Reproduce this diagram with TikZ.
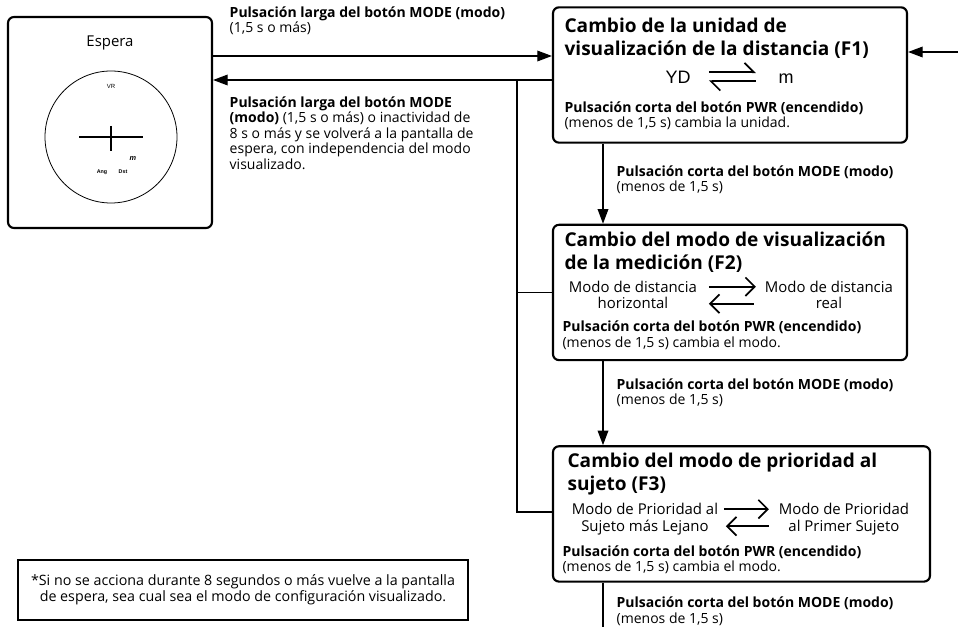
\documentclass[tikz,border=0pt]{standalone}
\usepackage{fontspec}
\setmainfont{Open Sans}
\newfontfamily\unitfont{Liberation Sans}
\usetikzlibrary{arrows.meta}
\usetikzlibrary{calc}
\usetikzlibrary{positioning}
\tikzstyle{panel} = [draw, line width=1.6pt, rounded corners=4.5pt, inner sep=0pt,
    minimum width=265.5pt, minimum height=101.5pt]
\tikzstyle{memobox} = [draw, line width=1.4pt, inner sep=0pt, align=center,
    font=\fontsize{10.7}{12}\selectfont]
\tikzstyle{caption} = [anchor=north west, inner sep=0pt, align=left,
    font=\fontsize{10.5}{11.7}\selectfont]
\tikzstyle{heading} = [anchor=north west, inner sep=0pt, align=left,
    font=\fontsize{14.3}{17.25}\selectfont\bfseries]
\tikzstyle{choice} = [anchor=north, inner sep=0pt, align=center,
    font=\fontsize{11.2}{12.4}\selectfont]
\tikzstyle{toggle} = [line width=1.3pt, -{Straight Barb[length=7pt,width=14pt]}]
\tikzstyle{tiny} = [inner sep=0pt, font=\unitfont\fontsize{4.5}{5}\selectfont]

\begin{document}
\begin{tikzpicture}[x=0.75pt, y=-0.75pt, line width=1pt,
    >={Triangle[length=11pt,width=8pt]}]
    \useasboundingbox (0,0) rectangle (958,627);

    % We start by placing the blocks
    \node [panel, minimum width=153pt, minimum height=158.25pt] (espera) at (110,122.5) {};
    \node [panel] (f1) at (730,75) {};
    \node [panel, below=60pt of f1] (f2) {};
    \node [panel, minimum width=282.75pt, below=63pt of f2.south west, anchor=north west] (f3) {};
    \node [memobox, minimum width=337.5pt, minimum height=45pt] (memo) at (243,590)
        {*Si no se acciona durante 8 segundos o más vuelve a la pantalla\\
         de espera, sea cual sea el modo de configuración visualizado.};

    % Standby screen
    \node [inner sep=0pt, font=\fontsize{11.2}{13}\selectfont] (esperatitle) at (110,43) {Espera};
    \node [draw, circle, line width=0.6pt, minimum size=99pt, inner sep=0pt] (reticle) at (111,137) {};
    \draw [line width=1.3pt] ([xshift=-24pt]reticle.center) -- ([xshift=24pt]reticle.center);
    \draw [line width=1.3pt] ([yshift=8.25pt]reticle.center) -- ([yshift=-10.5pt]reticle.center);
    \node [tiny] (vr) at (111,86) {VR};
    \node [tiny, font=\unitfont\fontsize{5.5}{6}\selectfont\bfseries\itshape] (unitsign) at (133,159) {m};
    \node [tiny, font=\unitfont\fontsize{4}{5}\selectfont\bfseries] (ang) at (102,172) {Ang};
    \node [tiny, font=\unitfont\fontsize{4}{5}\selectfont\bfseries] (dst) at (123,172) {Dst};

    % F1
    \node [heading] (f1title) at ($(f1.north west)+(12,11)$)
        {Cambio de la unidad de\\visualización de la distancia (F1)};
    \node [inner sep=0pt, anchor=base, font=\unitfont\fontsize{13.5}{16}\selectfont] (yd) at (678,83.5) {YD};
    \node [inner sep=0pt, anchor=base, font=\unitfont\fontsize{13.5}{16}\selectfont] (metre) at (786,83.5) {m};
    \draw [toggle, -{Straight Barb[harpoon,length=7pt,width=14pt]}] ($(f1.north west)+(157,66)$) -- ($(f1.north west)+(204,66)$);
    \draw [toggle, -{Straight Barb[harpoon,length=7pt,width=14pt]}] ($(f1.north west)+(204,75)$) -- ($(f1.north west)+(157,75)$);
    \node [caption] (f1pwr) at ($(f1.north west)+(12,94.7)$)
        {\textbf{Pulsación corta del botón PWR (encendido)}\\(menos de 1,5 s) cambia la unidad.};

    % F2
    \node [heading] (f2title) at ($(f2.north west)+(12,7)$)
        {Cambio del modo de visualización\\de la medición (F2)};
    \node [choice] (horiz) at ($(f2.north west)+(81,56.6)$) {Modo de distancia\\horizontal};
    \node [choice] (real) at ($(f2.north west)+(277,56.6)$) {Modo de distancia\\real};
    \draw [toggle] ($(f2.north west)+(157,63)$) -- ($(f2.north west)+(204,63)$);
    \draw [toggle] ($(f2.north west)+(202,80)$) -- ($(f2.north west)+(157,80)$);
    \node [caption] (f2pwr) at ($(f2.north west)+(10,96.7)$)
        {\textbf{Pulsación corta del botón PWR (encendido)}\\(menos de 1,5 s) cambia el modo.};

    % F3
    \node [heading] (f3title) at ($(f3.north west)+(15,7)$)
        {Cambio del modo de prioridad al\\sujeto (F3)};
    \node [choice] (far) at ($(f3.north west)+(93,57.6)$) {Modo de Prioridad al\\Sujeto más Lejano};
    \node [choice] (first) at ($(f3.north west)+(292,57.6)$) {Modo de Prioridad\\al Primer Sujeto};
    \draw [toggle] ($(f3.north west)+(172,64)$) -- ($(f3.north west)+(217,64)$);
    \draw [toggle] ($(f3.north west)+(217,81)$) -- ($(f3.north west)+(174,81)$);
    \node [caption] (f3pwr) at ($(f3.north west)+(10,99.7)$)
        {\textbf{Pulsación corta del botón PWR (encendido)}\\(menos de 1,5 s) cambia el modo.};

    % Once the nodes are placed, connecting them is easy.
    \coordinate (goY) at (0,56);
    \coordinate (backY) at (0,80);
    \coordinate (bus) at (517,80);
    \coordinate (stem) at (603,0);
    \coordinate (entry) at (958,52);
    \coordinate (exit) at (603,627);
    \draw [->] (espera.east |- goY) -- (f1.west |- goY);
    \draw [->] (f1.west |- backY) -- (espera.east |- backY);
    \draw (bus) |- (f2.west);
    \draw (bus) |- (f3.west |- 0,512);
    \draw [->] (entry) -- (f1.east |- entry);
    \draw [->] (f1.south -| stem) -- (f2.north -| stem);
    \draw [->] (f2.south -| stem) -- (f3.north -| stem);
    \draw (f3.south -| stem) -- (exit);

    % Labels on the connectors
    \node [caption] (golbl) at ($(espera.north east)+(16,-10.3)$)
        {\textbf{Pulsación larga del botón MODE (modo)}\\(1,5 s o más)};
    \node [caption] (backlbl) at ($(espera.north east)+(16,79.7)$)
        {\textbf{Pulsación larga del botón MODE}\\\textbf{(modo)} (1,5 s o más) o inactividad de\\8 s o más y se volverá a la pantalla de\\espera, con independencia del modo\\visualizado.};
    \node [caption] (mode1) at ($(f1.south -| stem)+(13,21)$)
        {\textbf{Pulsación corta del botón MODE (modo)}\\(menos de 1,5 s)};
    \node [caption] (mode2) at ($(f2.south -| stem)+(13,16.7)$)
        {\textbf{Pulsación corta del botón MODE (modo)}\\(menos de 1,5 s)};
    \node [caption] (mode3) at ($(f3.south -| stem)+(13,13.7)$)
        {\textbf{Pulsación corta del botón MODE (modo)}\\(menos de 1,5 s)};
\end{tikzpicture}
\end{document}
